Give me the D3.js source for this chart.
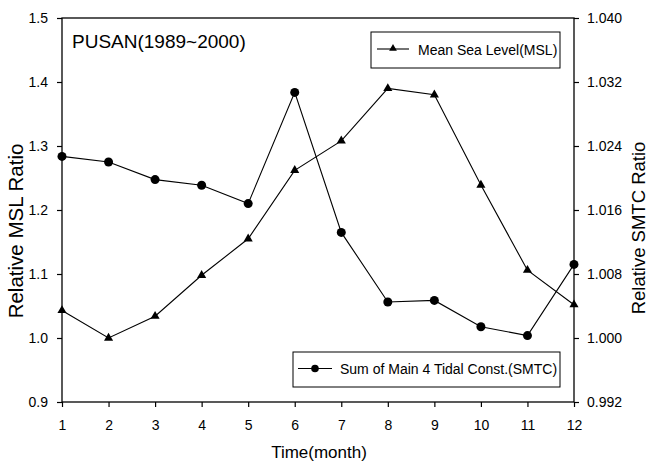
<!DOCTYPE html>
<html>
<head>
<meta charset="utf-8">
<script src="https://cdn.jsdelivr.net/npm/d3@7"></script>
<style>
  body { margin: 0; background: #fff; }
  svg { display: block; font-family: Arial, "Liberation Sans", sans-serif; }
  .tick text { font-size: 14px; fill: #000; }
  .tick line { stroke: #000; stroke-width: 1.2; }
</style>
</head>
<body>
<svg id="chart" width="649" height="465"></svg>
<script>
// months on x, two series with separate y axes
var months = [1, 2, 3, 4, 5, 6, 7, 8, 9, 10, 11, 12];
var msl = [1.043, 1.000, 1.034, 1.098, 1.155, 1.262, 1.308, 1.390, 1.380, 1.239, 1.106, 1.052];
var smtc = [1.0227, 1.0220, 1.0198, 1.0191, 1.0168, 1.0307, 1.0132, 1.0045, 1.0047, 1.0014, 1.0003, 1.0092];
var leftTicks = [0.9, 1.0, 1.1, 1.2, 1.3, 1.4, 1.5];
var rightTicks = [0.992, 1.000, 1.008, 1.016, 1.024, 1.032, 1.040];

var svg = d3.select("#chart");
var plotLeft = 62, plotRight = 574, plotTop = 18, plotBottom = 402;

var x = d3.scaleLinear().domain([1, 12]).range([plotLeft, plotRight]);
var yL = d3.scaleLinear().domain([0.9, 1.5]).range([plotBottom, plotTop]);
var yR = d3.scaleLinear().domain([0.992, 1.040]).range([plotBottom, plotTop]);

// frame
svg.append("rect")
  .attr("x", plotLeft).attr("y", plotTop)
  .attr("width", plotRight - plotLeft).attr("height", plotBottom - plotTop)
  .attr("fill", "none").attr("stroke", "#000").attr("stroke-width", 1.3);

// axes
svg.append("g")
  .attr("transform", "translate(" + plotLeft + ",0)")
  .call(d3.axisLeft(yL).tickValues(leftTicks).tickFormat(d3.format(".1f")).tickSize(5).tickPadding(9))
  .call(function (g) { g.select(".domain").remove(); });

svg.append("g")
  .attr("transform", "translate(" + plotRight + ",0)")
  .call(d3.axisRight(yR).tickValues(rightTicks).tickFormat(d3.format(".3f")).tickSize(5).tickPadding(8))
  .call(function (g) { g.select(".domain").remove(); });

svg.append("g")
  .attr("transform", "translate(0," + plotBottom + ")")
  .call(d3.axisBottom(x).tickValues(months).tickFormat(d3.format("d")).tickSize(5).tickPadding(13))
  .call(function (g) { g.select(".domain").remove(); });

// lines
var lineL = d3.line().x(function (d, i) { return x(months[i]); }).y(function (d) { return yL(d); });
var lineR = d3.line().x(function (d, i) { return x(months[i]); }).y(function (d) { return yR(d); });

svg.append("path").datum(msl)
  .attr("d", lineL).attr("fill", "none").attr("stroke", "#000").attr("stroke-width", 1.1);
svg.append("path").datum(smtc)
  .attr("d", lineR).attr("fill", "none").attr("stroke", "#000").attr("stroke-width", 1.1);

var tri = d3.symbol().type(d3.symbolTriangle).size(36);
svg.selectAll("path.tri").data(msl).enter().append("path")
  .attr("class", "tri")
  .attr("d", tri)
  .attr("transform", function (d, i) { return "translate(" + x(months[i]) + "," + yL(d) + ")"; })
  .attr("fill", "#000");

svg.selectAll("circle.dot").data(smtc).enter().append("circle")
  .attr("class", "dot")
  .attr("cx", function (d, i) { return x(months[i]); })
  .attr("cy", function (d) { return yR(d); })
  .attr("r", 4.5)
  .attr("fill", "#000");

// title
svg.append("text")
  .attr("x", 72).attr("y", 48)
  .attr("font-size", 19)
  .text("PUSAN(1989~2000)");

// legends
var lg1 = svg.append("g");
lg1.append("rect").attr("x", 371).attr("y", 32).attr("width", 189).attr("height", 36)
  .attr("fill", "#fff").attr("stroke", "#000").attr("stroke-width", 1);
lg1.append("line").attr("x1", 377).attr("x2", 409).attr("y1", 49).attr("y2", 49)
  .attr("stroke", "#000").attr("stroke-width", 1.1);
lg1.append("path").attr("d", d3.symbol().type(d3.symbolTriangle).size(26))
  .attr("transform", "translate(393,48.5)");
lg1.append("text").attr("x", 418).attr("y", 55).attr("font-size", 14).text("Mean Sea Level(MSL)");

var lg2 = svg.append("g");
lg2.append("rect").attr("x", 293).attr("y", 352).attr("width", 267).attr("height", 35)
  .attr("fill", "#fff").attr("stroke", "#000").attr("stroke-width", 1);
lg2.append("line").attr("x1", 298).attr("x2", 332).attr("y1", 368.5).attr("y2", 368.5)
  .attr("stroke", "#000").attr("stroke-width", 1.1);
lg2.append("circle").attr("cx", 315).attr("cy", 368.5).attr("r", 3.8);
lg2.append("text").attr("x", 340).attr("y", 374).attr("font-size", 14).text("Sum of Main 4 Tidal Const.(SMTC)");

// axis titles
svg.append("text")
  .attr("transform", "translate(23,231) rotate(-90)")
  .attr("text-anchor", "middle").attr("font-size", 20.5)
  .text("Relative MSL Ratio");

svg.append("text")
  .attr("transform", "translate(645,228) rotate(-90)")
  .attr("text-anchor", "middle").attr("font-size", 18.5)
  .text("Relative SMTC Ratio");

svg.append("text")
  .attr("x", 319).attr("y", 458)
  .attr("text-anchor", "middle").attr("font-size", 17)
  .text("Time(month)");
</script>
</body>
</html>
